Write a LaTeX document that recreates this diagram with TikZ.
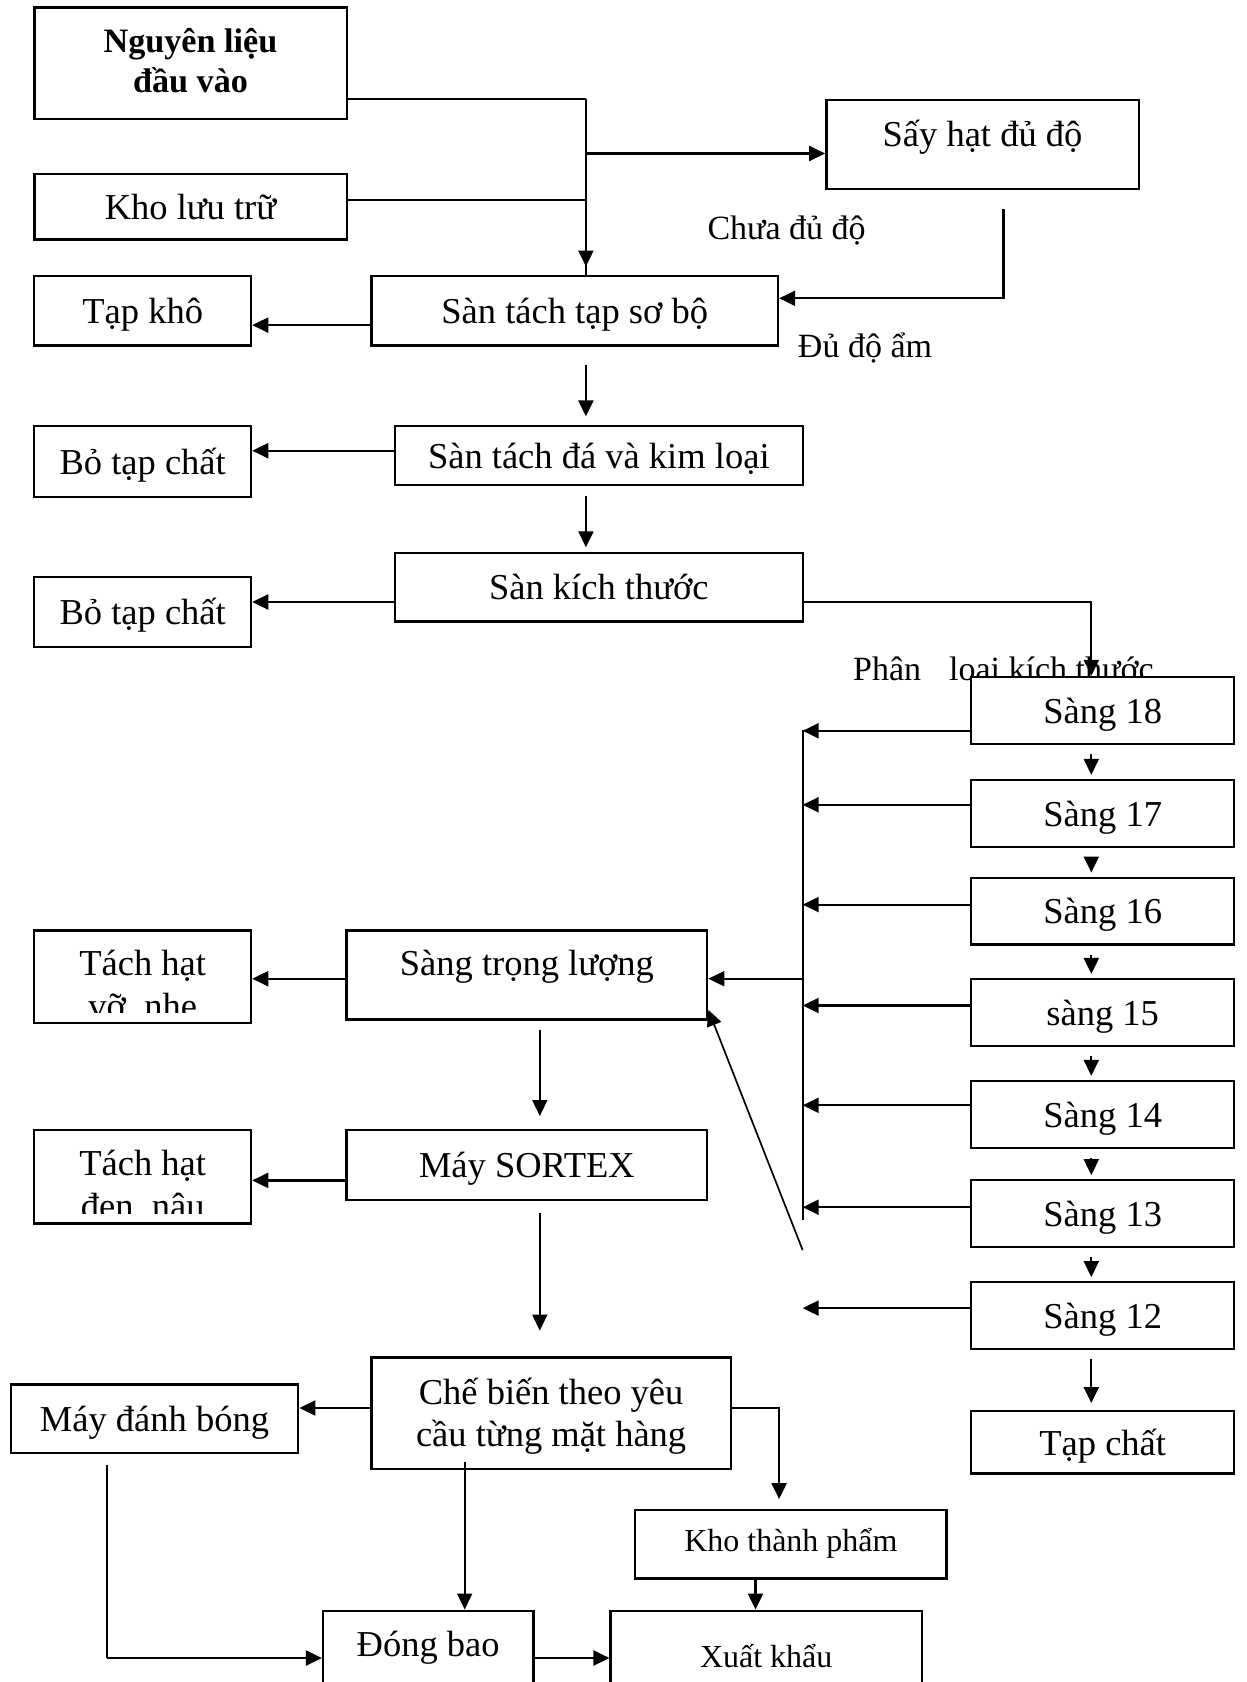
\documentclass[tikz,border=0pt]{standalone}
\usepackage{fontspec}
\setmainfont{Liberation Serif}
\usetikzlibrary{arrows.meta}
\newcommand\fsMain{\fontsize{36.5}{43}\selectfont}
\newcommand\fsSmall{\fontsize{32}{38}\selectfont}
\newcommand\fsLab{\fontsize{34}{40}\selectfont}
\newcommand\fsBold{\fontsize{34.2}{40}\selectfont\bfseries}
\begin{document}
\begin{tikzpicture}[x=1pt,y=-1pt,
  box/.style={draw,line width=2.3pt,fill=white,inner sep=0pt,
    text height=25.5pt,text depth=0pt,font=\fsMain},
  txt/.style={inner sep=0pt,anchor=base,font=\fsMain},
  arr/.style={line width=2.2pt,-{Triangle[length=16pt,width=15pt]}},
  ln/.style={line width=2.2pt},
  thinl/.style={line width=1.7pt}]
\clip (0,0) rectangle (1247,1682);
\fill[white] (0,0) rectangle (1247,1682);

% free labels
\node[txt,font=\fsLab] (chua) at (786.6,239) {Chưa đủ độ};
\node[txt,font=\fsLab] (duam) at (865,357.5) {Đủ độ ẩm};
\node[txt,font=\fsLab,anchor=base west] (phanloai) at (853,680) {Phân\hspace{28pt}loại kích thước};

% left column and main line
\node[box,minimum width=312.3pt,minimum height=111.6pt] (nl) at (190.5,63.3) {};
\node[txt,font=\fsBold] (nlA) at (190.5,52.5) {Nguyên liệu};
\node[txt,font=\fsBold] (nlB) at (190.5,92) {đầu vào};
\node[box,minimum width=312.3pt,minimum height=65.5pt] (kho) at (190.5,206.6) {Kho lưu trữ};
\node[box,minimum width=312.3pt,minimum height=89.1pt] (say) at (982.5,144.4) {};
\node[txt] (sayT) at (982.5,146.5) {Sấy hạt đủ độ};
\node[box,minimum width=406.7pt,minimum height=69.7pt] (sotach) at (574.7,310.7) {Sàn tách tạp sơ bộ};
\node[box,minimum width=216.8pt,minimum height=69.7pt] (tapkho) at (142.7,310.7) {Tạp khô};
\node[box,minimum width=407.8pt,minimum height=59pt] (tachda) at (598.8,455.5) {Sàn tách đá và kim loại};
\node[box,minimum width=216.8pt,minimum height=70.8pt] (bo1) at (142.7,461.4) {Bỏ tạp chất};
\node[box,minimum width=407.8pt,minimum height=68.7pt] (kichthuoc) at (598.8,587) {Sàn kích thước};
\node[box,minimum width=216.8pt,minimum height=69.8pt] (bo2) at (142.7,612.2) {Bỏ tạp chất};

% screens
\foreach \nm/\yy/\tx in {sang18/710.4/Sàng 18, sang17/813.4/Sàng 17, sang16/911.05/Sàng 16,
    sang15/1012.5/sàng 15, sang14/1114.4/Sàng 14, sang13/1213.7/Sàng 13, sang12/1315.65/Sàng 12}
  \node[box,minimum width=262.9pt,minimum height=66.8pt] (\nm) at (1102.7,\yy) {\tx};
\node[box,minimum width=262.9pt,minimum height=62.3pt] (tapchat) at (1102.7,1442.3) {Tạp chất};

% weight sorting and colour sorting
\node[box,minimum width=360.6pt,minimum height=89pt] (trongluong) at (526.9,974.9) {};
\node[txt] (tlT) at (526.9,975) {Sàng trọng lượng};
\node[box,minimum width=216.8pt,minimum height=92.3pt] (tachvo) at (142.7,976.6) {};
\begin{scope}
  \clip (tachvo.north west) rectangle (tachvo.east |- 0,1012.5);
  \node[txt] (tvA) at (142.7,975) {Tách hạt};
  \node[txt] (tvB) at (142.7,1018) {vỡ, nhẹ};
\end{scope}
\node[box,minimum width=360.6pt,minimum height=69.7pt] (sortex) at (526.9,1164.9) {Máy SORTEX};
\node[box,minimum width=216.8pt,minimum height=93.3pt] (tachden) at (142.7,1176.7) {};
\begin{scope}
  \clip (tachden.north west) rectangle (tachden.east |- 0,1213.3);
  \node[txt] (tdA) at (142.7,1175) {Tách hạt};
  \node[txt] (tdB) at (142.7,1218) {đen, nâu};
\end{scope}

% finishing
\node[box,minimum width=359.5pt,minimum height=111.6pt] (chebien) at (551.1,1413.3) {};
\node[txt] (cbA) at (551.1,1404) {Chế biến theo yêu};
\node[txt] (cbB) at (551.1,1446) {cầu từng mặt hàng};
\node[box,minimum width=287.6pt,minimum height=68.7pt] (danhbong) at (154.5,1418.7) {Máy đánh bóng};
\node[box,minimum width=311.2pt,minimum height=68.6pt] (khotp) at (790.9,1544.2) {};
\node[txt,font=\fsSmall] (khotpT) at (790.9,1551) {Kho thành phẩm};
\node[box,minimum width=311.2pt,minimum height=120pt] (xuatkhau) at (766.2,1670.7) {};
\node[txt,font=\fsSmall] (xkT) at (766.2,1667) {Xuất khẩu};
\node[box,minimum width=210.3pt,minimum height=120pt] (dongbao) at (428.2,1670.7) {};
\node[txt] (dbT) at (428.2,1656) {Đóng bao};

% feed and dryer loop
\coordinate (jx) at (585.9,98.7);
\coordinate (dryOut) at (1003.4,209.3);
\draw[ln] (nl.east |- jx) -- (jx);
\draw[ln] (kho.east |- 0,199.6) -- (585.9,199.6);
\draw[arr] (jx) -- (585.9,266.5);
\draw[ln] (585.9,265) -- (sotach.north -| jx);
\draw[arr] (585.9,153.5) -- (say.west |- 0,153.5);
\draw[arr] (dryOut) |- (sotach.east |- 0,298.3);

% rejects to the left
\draw[arr] (sotach.west |- 0,325.1) -- (tapkho.east |- 0,325.1);
\draw[arr] (tachda.west |- 0,450.7) -- (bo1.east |- 0,450.7);
\draw[arr] (kichthuoc.west |- 0,602) -- (bo2.east |- 0,602);
\draw[arr] (trongluong.west |- 0,978.7) -- (tachvo.east |- 0,978.7);
\draw[arr] (sortex.west |- 0,1180.4) -- (tachden.east |- 0,1180.4);
\draw[arr] (chebien.west |- 0,1408) -- (danhbong.east |- 0,1408);

% main line downwards
\coordinate (a1) at (585.9,364.9); \coordinate (a2) at (585.9,416.4);
\coordinate (b1) at (585.9,495.8); \coordinate (b2) at (585.9,547.3);
\draw[arr] (a1) -- (a2);
\draw[arr] (b1) -- (b2);
\draw[arr] (kichthuoc.east |- 0,602) -| ([xshift=-11.4pt]sang18.north);

% screen cascade
\foreach \a/\b in {sang18/sang17, sang17/sang16, sang16/sang15, sang15/sang14, sang14/sang13, sang13/sang12}
  \draw[arr,shorten <=9pt,shorten >=4pt] (\a.south -| 1091.3,0) -- (\b.north -| 1091.3,0);
\draw[arr,shorten <=9pt,shorten >=7pt] (sang12.south -| 1091.3,0) -- (tapchat.north -| 1091.3,0);

% collector from screens to weight sorting
\coordinate (colTop) at (802.7,729.7);
\coordinate (colBot) at (802.7,1220.1);
\draw[ln] (colTop) -- (colBot);
\foreach \s/\yy in {sang18/730.8, sang17/804.8, sang16/904.6, sang15/1005.5, sang14/1105.3, sang13/1207.2, sang12/1308.1}
  \draw[arr] (\s.west |- 0,\yy) -- (colTop |- 0,\yy);
\draw[arr] (colTop |- 0,978.7) -- (trongluong.east |- 0,978.7);
\coordinate (retFoot) at (802.7,1250.2);
\draw[arr,thinl] (retFoot) -- ([yshift=10.7pt]trongluong.south east);

% down to finishing
\coordinate (c1) at (539.8,1030.2); \coordinate (c2) at (539.8,1116);
\coordinate (d1) at (539.8,1212.6); \coordinate (d2) at (539.8,1330.6);
\draw[arr,thinl] (c1) -- (c2);
\draw[arr,thinl] (d1) -- (d2);
\draw[arr] (chebien.east |- 0,1408) -| (779.1,1499.1);
\draw[arr] (khotp.south -| 755.5,0) -- (xuatkhau.north -| 755.5,0);
\coordinate (e1) at (464.7,1461.6);
\draw[arr,thinl] (e1) -- (dongbao.north -| e1);
\coordinate (f1) at (107.3,1464.8); \coordinate (f2) at (107.3,1658);
\draw[thinl] (f1) -- (f2);
\draw[arr] (f2) -- (dongbao.west |- f2);
\draw[arr] (dongbao.east |- 0,1658) -- (xuatkhau.west |- 0,1658);
\end{tikzpicture}
\end{document}
